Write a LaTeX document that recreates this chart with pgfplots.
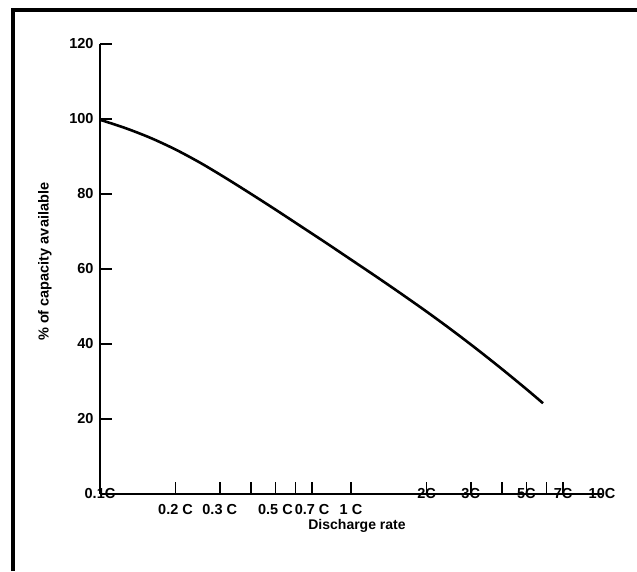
\documentclass[border=0pt]{standalone}
\usepackage{pgfplots}
\pgfplotsset{compat=1.18}
\usepackage{fontspec}
\setmainfont{Liberation Sans}
\begin{document}
\begin{tikzpicture}
\useasboundingbox (0,0) rectangle (637pt,571pt);
% scan frame (left and top edges only)
\draw[line width=3.5pt] (13pt,0) -- (13pt,561pt) -- (637pt,561pt);
\begin{axis}[
  at={(100pt,77pt)}, anchor=south west,
  scale only axis, width=502pt, height=450pt,
  xmode=log, xmin=0.1, xmax=10, ymin=0, ymax=120,
  axis lines=left, axis line style={-, line width=1.8pt},
  tick align=inside, major tick length=12pt,
  every tick/.style={black, line width=1.6pt},
  minor tick num=0, log ticks with fixed point,
  ytick={20,40,60,80,100,120},
  yticklabels={20,40,60,80,100,120},
  yticklabel style={anchor=east, xshift=-3pt, font=\fontsize{14.5}{14.5}\selectfont\bfseries},
  xtick={0.2,0.3,0.4,0.5,0.6,0.7,1,2,3,4,5,6,7},
  xticklabels={0.2 C,0.3 C,,0.5 C,,0.7 C,1 C,,,,,,},
  xticklabel style={anchor=center, yshift=-16pt, font=\fontsize{14.5}{14.5}\selectfont\bfseries},
  extra x ticks={0.1,2,3,5,7,10},
  extra x tick labels={0.1C,2C,3C,5C,7C,10C},
  extra x tick style={major tick length=0pt,
    xticklabel style={anchor=center, yshift=16pt}},
  xlabel={Discharge rate},
  xlabel style={at={(axis description cs:0.512,-0.071)}, anchor=center,
    font=\fontsize{14}{14}\selectfont\bfseries},
  ylabel={\% of capacity available},
  ylabel style={at={(axis description cs:-0.11,0.516)}, anchor=center,
    font=\fontsize{14.5}{14.5}\selectfont\bfseries},
  clip=false,
]
\addplot[black, line width=2.6pt, smooth] coordinates {
  (0.1,    99.8)
  (0.1259, 97.6)
  (0.1585, 95.0)
  (0.1995, 91.9)
  (0.2512, 88.3)
  (0.3162, 84.3)
  (0.3981, 80.1)
  (0.5012, 75.8)
  (0.6310, 71.4)
  (0.7943, 67.0)
  (1.0,    62.5)
  (1.259,  58.0)
  (1.585,  53.4)
  (1.995,  48.7)
  (2.512,  43.8)
  (3.162,  38.7)
  (3.981,  33.4)
  (5.012,  27.9)
  (5.821,  24.2)
};
\end{axis}
\end{tikzpicture}
\end{document}
